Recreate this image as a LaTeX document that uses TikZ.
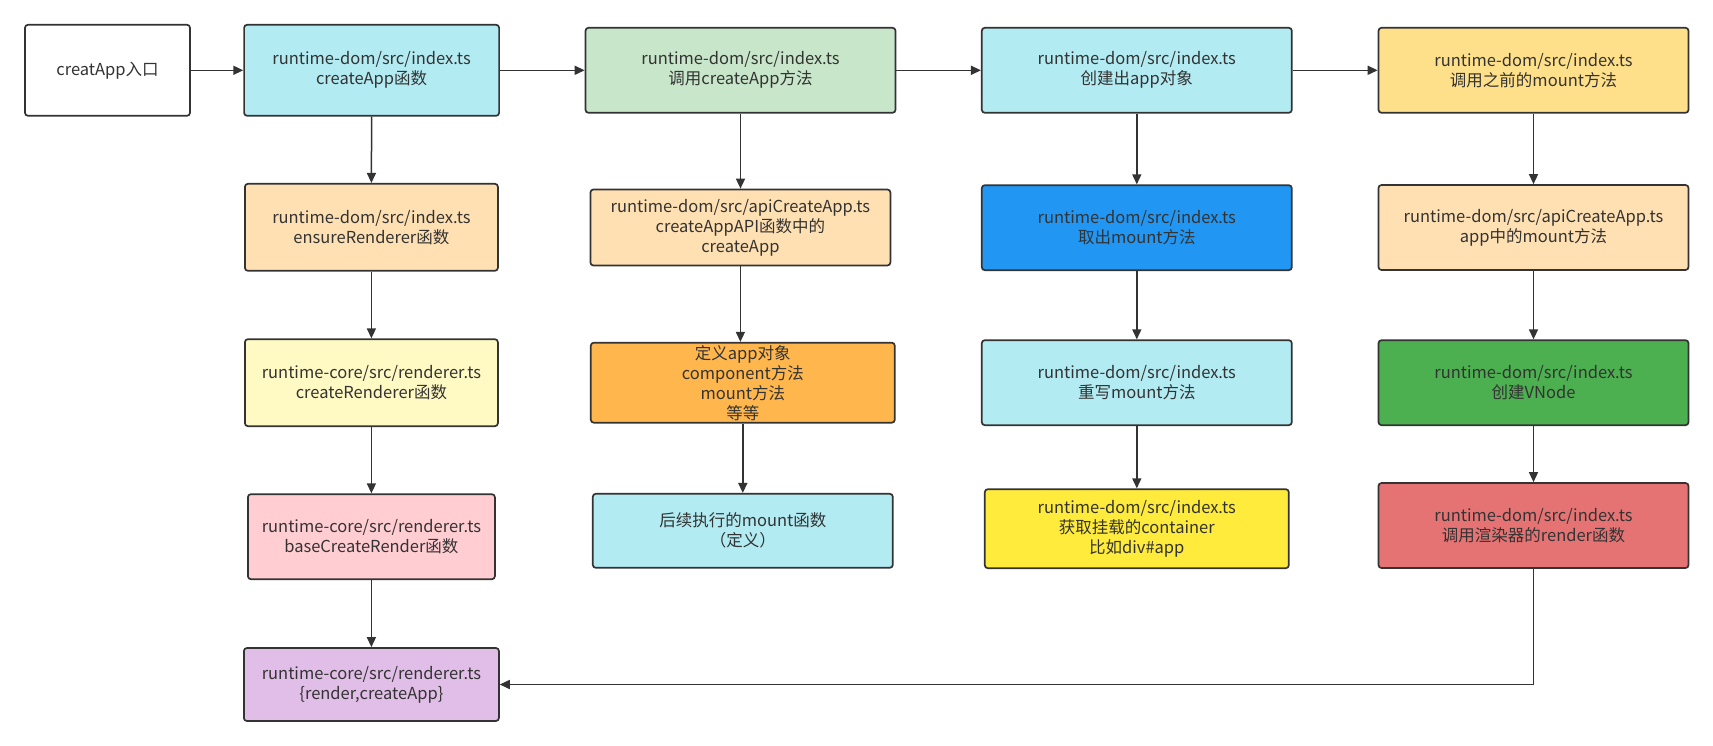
\documentclass[tikz,border=0pt]{standalone}
\usepackage{fontspec}
\setmainfont{Noto Sans CJK SC}
\usetikzlibrary{arrows.meta}
\definecolor{edge}{HTML}{333333}
\definecolor{cyanbox}{HTML}{B2EBF2}
\definecolor{greenlt}{HTML}{C8E6C9}
\definecolor{amberbox}{HTML}{FFE08A}
\definecolor{peach}{HTML}{FFE0B2}
\definecolor{bluebox}{HTML}{2196F3}
\definecolor{lemon}{HTML}{FFF9C4}
\definecolor{orangebox}{HTML}{FFB74D}
\definecolor{greenbox}{HTML}{4CAF50}
\definecolor{pinkbox}{HTML}{FFCDD2}
\definecolor{yellowbox}{HTML}{FFEB3B}
\definecolor{redbox}{HTML}{E57373}
\definecolor{purplebox}{HTML}{E1BEE7}
\tikzset{
  box/.style={draw=edge, line width=1.7pt, rounded corners=3pt, align=center,
    inner sep=0pt, text=edge, font=\fontsize{16.5pt}{20pt}\selectfont},
  link/.style={draw=edge, line width=1.5pt, -{Triangle[length=10pt,width=9pt]}}
}
\begin{document}
\begin{tikzpicture}[x=1pt,y=-1pt]
\useasboundingbox (0,0) rectangle (1713,746);
\fill[white] (0,0) rectangle (1713,746);
% top row
\node[box, fill=white, minimum width=165pt, minimum height=91pt] (start) at (107.5,70.3) {creatApp入口};
\node[box, fill=cyanbox, minimum width=255pt, minimum height=91pt] (n1) at (371.6,70.3) {runtime-dom/src/index.ts\\createApp函数};
\node[box, fill=greenlt, minimum width=310pt, minimum height=85pt] (n2) at (740.5,70.3) {runtime-dom/src/index.ts\\调用createApp方法};
\node[box, fill=cyanbox, minimum width=310pt, minimum height=85pt] (n3) at (1136.8,70.3) {runtime-dom/src/index.ts\\创建出app对象};
\node[box, fill=amberbox, minimum width=310pt, minimum height=85pt] (n4) at (1533.5,70.3) {runtime-dom/src/index.ts\\调用之前的mount方法};
% column 1
\node[box, fill=peach, minimum width=253pt, minimum height=87pt] (a2) at (371.4,227.3) {runtime-dom/src/index.ts\\ensureRenderer函数};
\node[box, fill=lemon, minimum width=253pt, minimum height=87pt] (a3) at (371.4,382.7) {runtime-core/src/renderer.ts\\createRenderer函数};
\node[box, fill=pinkbox, minimum width=247pt, minimum height=85pt] (a4) at (371.4,536.7) {runtime-core/src/renderer.ts\\baseCreateRender函数};
\node[box, fill=purplebox, minimum width=255pt, minimum height=73pt] (a5) at (371.4,684.5) {runtime-core/src/renderer.ts\\\{render,createApp\}};
% column 2
\node[box, fill=peach, minimum width=300pt, minimum height=76pt] (b2) at (740.4,227.5) {runtime-dom/src/apiCreateApp.ts\\createAppAPI函数中的\\createApp};
\node[box, fill=orangebox, minimum width=304pt, minimum height=80pt] (b3) at (742.8,382.7) {定义app对象\\component方法\\mount方法\\等等};
\node[box, fill=cyanbox, minimum width=300pt, minimum height=74pt] (b4) at (742.8,530.8) {后续执行的mount函数\\（定义）};
% column 3
\node[box, fill=bluebox, minimum width=310pt, minimum height=85pt] (c2) at (1136.8,227.7) {runtime-dom/src/index.ts\\取出mount方法};
\node[box, fill=cyanbox, minimum width=310pt, minimum height=85pt] (c3) at (1136.8,382.7) {runtime-dom/src/index.ts\\重写mount方法};
\node[box, fill=yellowbox, minimum width=304pt, minimum height=79pt] (c4) at (1136.8,528.7) {runtime-dom/src/index.ts\\获取挂载的container\\比如div\#app};
% column 4
\node[box, fill=peach, minimum width=310pt, minimum height=85pt] (d2) at (1533.5,227.5) {runtime-dom/src/apiCreateApp.ts\\app中的mount方法};
\node[box, fill=greenbox, minimum width=310pt, minimum height=85pt] (d3) at (1533.5,382.7) {runtime-dom/src/index.ts\\创建VNode};
\node[box, fill=redbox, minimum width=310pt, minimum height=85pt] (d4) at (1533.5,525.5) {runtime-dom/src/index.ts\\调用渲染器的render函数};
% horizontal connectors
\draw[link] (start) -- (n1);
\draw[link] (n1) -- (n2);
\draw[link] (n2) -- (n3);
\draw[link] (n3) -- (n4);
% vertical connectors
\draw[link] (n1.south) -- (a2.north);
\draw[link] (a2.south) -- (a3.north);
\draw[link] (a3.south) -- (a4.north);
\draw[link] (a4.south) -- (a5.north);
\draw[link] (n2.south) -- (n2.south |- b2.north);
\draw[link] (b2.south) -- (b2.south |- b3.north);
\draw[link] (b3.south) -- (b4.north);
\draw[link] (n3.south) -- (c2.north);
\draw[link] (c2.south) -- (c3.north);
\draw[link] (c3.south) -- (c4.north);
\draw[link] (n4.south) -- (d2.north);
\draw[link] (d2.south) -- (d3.north);
\draw[link] (d3.south) -- (d4.north);
\draw[link] (d4.south) |- (a5.east);
\end{tikzpicture}
\end{document}
